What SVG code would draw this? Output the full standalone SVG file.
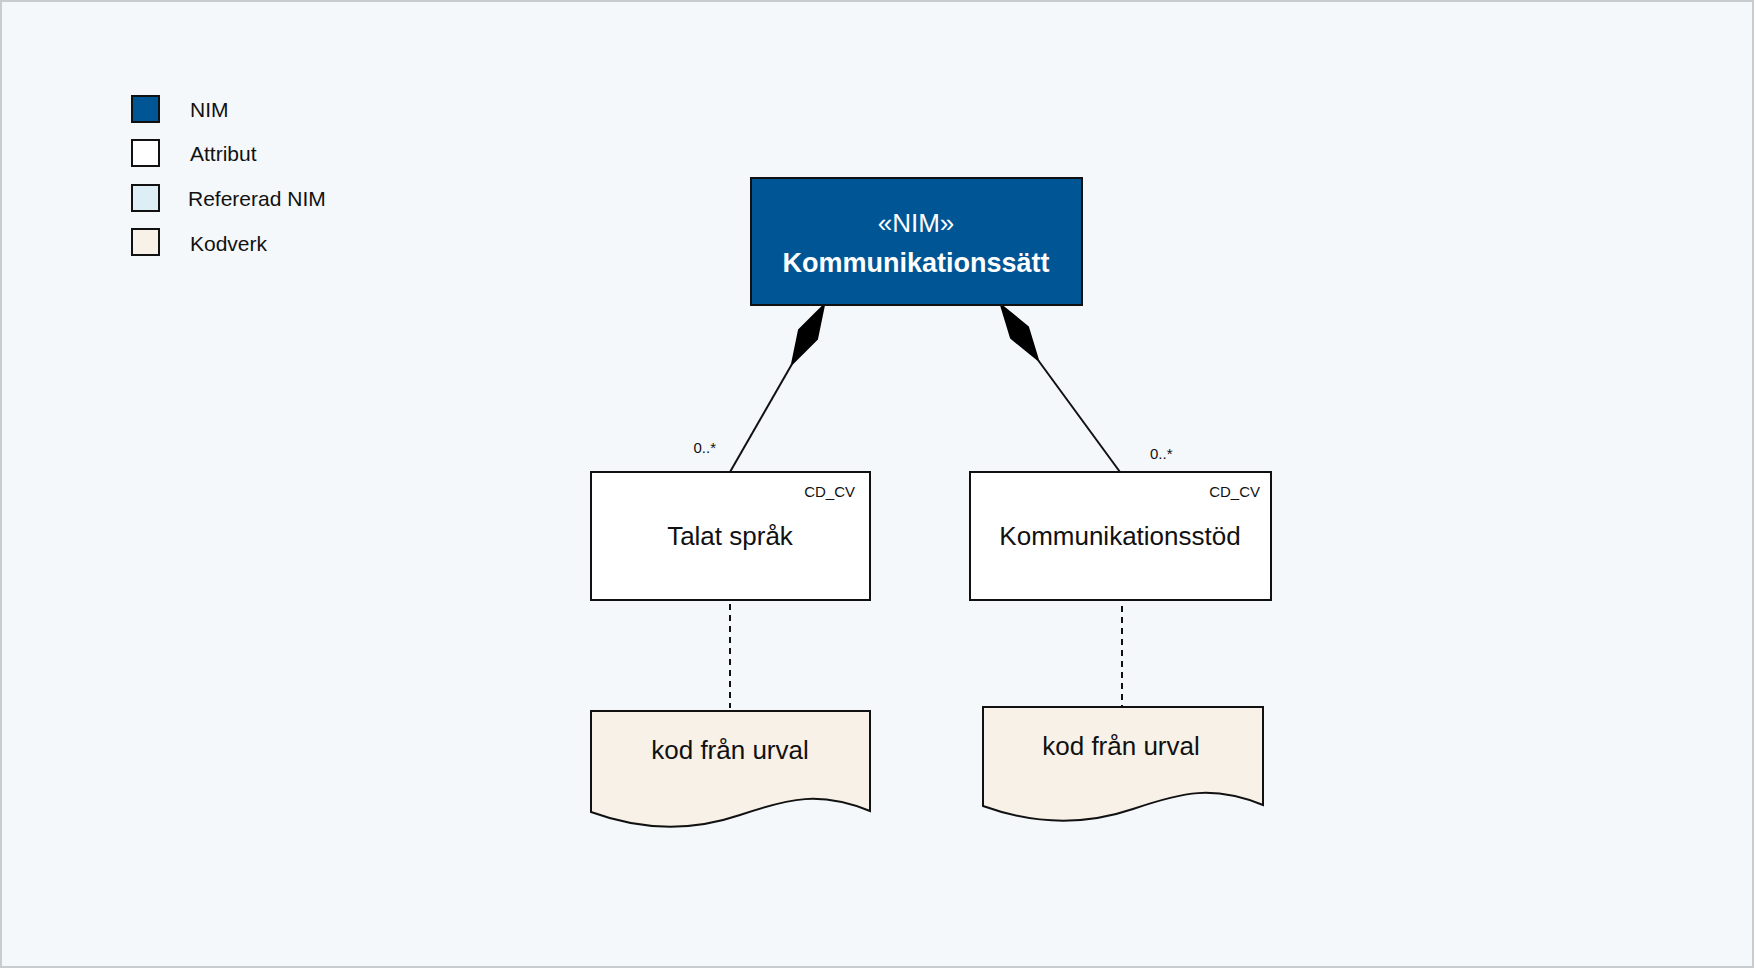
<svg xmlns="http://www.w3.org/2000/svg" width="1754" height="968" viewBox="0 0 1754 968">
<style>
text{font-family:"Liberation Sans",Arial,sans-serif;fill:#111}
.box{stroke:#111;stroke-width:2}
.leg{font-size:21px}
.conn{stroke:#111;stroke-width:2;fill:none}
</style>
<rect x="1" y="1" width="1752" height="966" fill="#f4f8fb" stroke="#c8ccd0" stroke-width="2"/>
<g id="legend">
<rect x="132" y="96" width="27" height="26" fill="#005595" class="box"/>
<rect x="132" y="140" width="27" height="26" fill="#fff" class="box"/>
<rect x="132" y="185" width="27" height="26" fill="#ddeef6" class="box"/>
<rect x="132" y="229" width="27" height="26" fill="#f8f1e7" class="box"/>
<text class="leg" x="190" y="117">NIM</text>
<text class="leg" x="190" y="161">Attribut</text>
<text class="leg" x="188" y="206">Refererad NIM</text>
<text class="leg" x="190" y="251">Kodverk</text>
</g>
<g id="connectors">
<polygon points="824,305 817,339 792,364 799,330" fill="#000" stroke="#000" stroke-width="2"/>
<line class="conn" x1="792" y1="364" x2="730" y2="472"/>
<polygon points="1001,305 1028,327 1038,360 1011,338" fill="#000" stroke="#000" stroke-width="2"/>
<line class="conn" x1="1038" y1="360" x2="1120" y2="472"/>
<text x="716" y="453" font-size="15" text-anchor="end">0..*</text>
<text x="1150" y="459" font-size="15">0..*</text>
<line class="conn" x1="730" y1="604" x2="730" y2="708" stroke-dasharray="6,5"/>
<line class="conn" x1="1122" y1="606" x2="1122" y2="706" stroke-dasharray="6,5"/>
</g>
<g id="main">
<rect x="751" y="178" width="331" height="127" fill="#005595" class="box"/>
<text x="916" y="232" font-size="26" text-anchor="middle" style="fill:#fff">«NIM»</text>
<text x="916" y="272" font-size="27" font-weight="bold" text-anchor="middle" style="fill:#fff">Kommunikationssätt</text>
</g>
<g id="talat">
<rect x="591" y="472" width="279" height="128" fill="#fff" class="box"/>
<text x="855" y="497" font-size="15" text-anchor="end">CD_CV</text>
<text x="730" y="545" font-size="26" text-anchor="middle">Talat språk</text>
</g>
<g id="stod">
<rect x="970" y="472" width="301" height="128" fill="#fff" class="box"/>
<text x="1260" y="497" font-size="15" text-anchor="end">CD_CV</text>
<text x="1120" y="545" font-size="26" text-anchor="middle">Kommunikationsstöd</text>
</g>
<g id="kod1">
<path d="M591,711 H870 V811 C820,791 790,798 740,815 C690,832 640,830 591,812 Z" fill="#f8f1e7" class="box"/>
<text x="730" y="759" font-size="26" text-anchor="middle">kod från urval</text>
</g>
<g id="kod2">
<path d="M983,707 H1263 V805 C1213,785 1183,792 1133,809 C1083,826 1033,824 983,806 Z" fill="#f8f1e7" class="box"/>
<text x="1121" y="755" font-size="26" text-anchor="middle">kod från urval</text>
</g>
</svg>
